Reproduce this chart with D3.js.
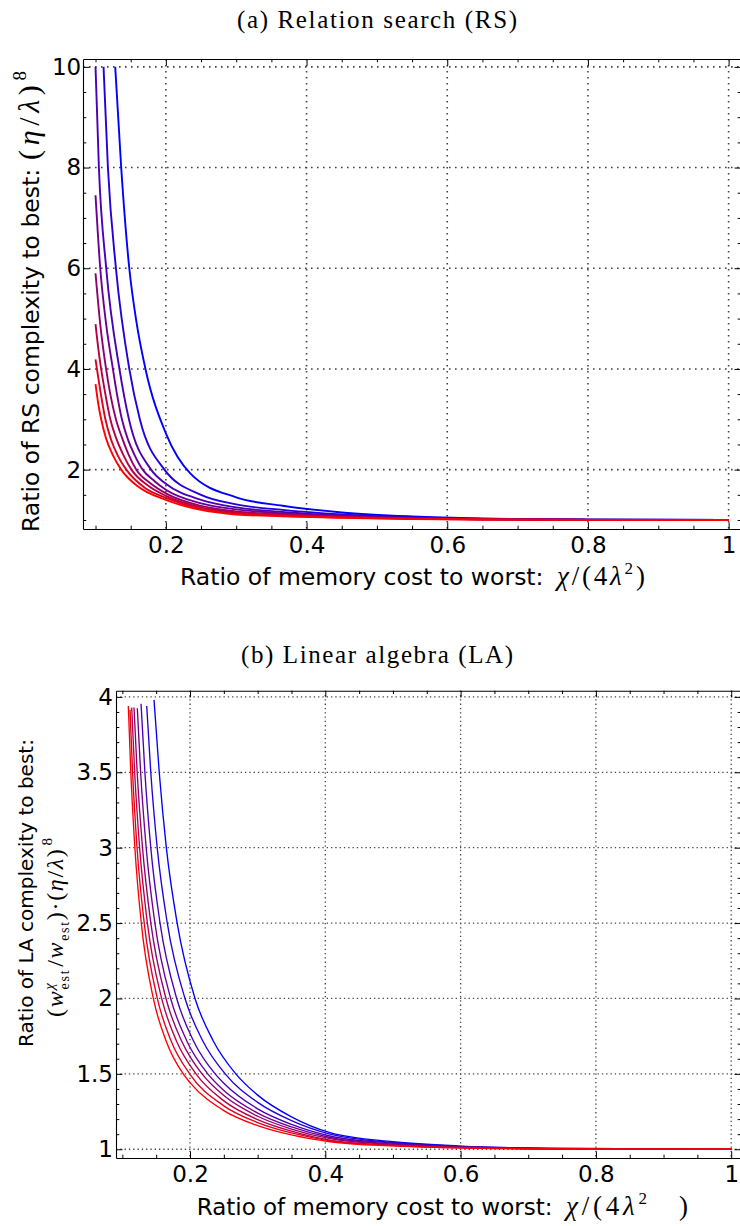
<!DOCTYPE html>
<html><head><meta charset="utf-8">
<script src="https://cdn.jsdelivr.net/npm/d3@7"></script>
<style>body{margin:0;background:#fff}svg{display:block}</style>
</head><body>
<svg id="c" width="740" height="1226"></svg>
<script>
// ---------- data ----------
const xMajorTicks = [0.2, 0.4, 0.6, 0.8, 1];
const xTickLabels = ["0.2", "0.4", "0.6", "0.8", "1"];
const rsYTicks = [2, 4, 6, 8, 10];
const rsYTickLabels = ["2", "4", "6", "8", "10"];
const laYTicks = [1, 1.5, 2, 2.5, 3, 3.5, 4];
const laYTickLabels = ["1", "1.5", "2", "2.5", "3", "3.5", "4"];

// (a) Relation search, curves ordered red -> blue
const rs1 = [[0.1,3.70],[0.104,3.3],[0.108,3.0],[0.115,2.62],[0.125,2.28],[0.1365,2.0],[0.16,1.67],[0.2,1.40],[0.25,1.2],[0.3,1.11],[0.366,1.075],[0.45,1.045],[0.55,1.021],[0.65,1.009],[0.8,1.002],[1,1]];
const rs2 = [[0.1,4.19],[0.102,4.0],[0.107,3.55],[0.114,3.0],[0.122,2.6],[0.132,2.27],[0.1437,2.0],[0.17,1.64],[0.2,1.44],[0.25,1.22],[0.3,1.13],[0.366,1.085],[0.45,1.05],[0.55,1.024],[0.65,1.01],[0.8,1.002],[1,1]];
const rs3 = [[0.1,4.89],[0.104,4.4],[0.108,4.0],[0.114,3.5],[0.121,3.0],[0.13,2.6],[0.14,2.28],[0.151,2.0],[0.175,1.68],[0.2,1.48],[0.25,1.25],[0.3,1.15],[0.366,1.1],[0.45,1.058],[0.55,1.027],[0.65,1.012],[0.8,1.003],[1,1]];
const rs4 = [[0.1,5.9],[0.107,4.85],[0.115,4.0],[0.121,3.5],[0.129,3.0],[0.138,2.62],[0.147,2.3],[0.158,2.0],[0.178,1.73],[0.2,1.53],[0.25,1.28],[0.3,1.17],[0.366,1.11],[0.45,1.065],[0.55,1.03],[0.65,1.013],[0.8,1.003],[1,1]];
const rs5 = [[0.1,7.45],[0.1067,6.0],[0.115,4.9],[0.1247,4.0],[0.1305,3.5],[0.1375,3.0],[0.146,2.6],[0.1552,2.3],[0.167,2.0],[0.184,1.77],[0.2,1.6],[0.25,1.33],[0.3,1.21],[0.366,1.13],[0.45,1.075],[0.55,1.035],[0.65,1.015],[0.8,1.004],[1,1]];
const rs6 = [[0.1,10],[0.1048,8],[0.1152,6],[0.134,4],[0.1475,3],[0.179,2],[0.2,1.72],[0.25,1.4],[0.3,1.25],[0.366,1.16],[0.45,1.09],[0.55,1.04],[0.65,1.018],[0.8,1.005],[1,1]];
const rs7 = [[0.1114,10],[0.1176,8],[0.129,6],[0.148,4],[0.163,3],[0.198,2],[0.25,1.5],[0.3,1.31],[0.366,1.2],[0.45,1.11],[0.55,1.05],[0.65,1.022],[0.8,1.006],[1,1]];
const rs8 = [[0.128,10],[0.1365,8],[0.148,6],[0.158,4.95],[0.171,4],[0.2,2.72],[0.235,1.92],[0.3,1.45],[0.366,1.284],[0.45,1.15],[0.55,1.07],[0.65,1.03],[0.8,1.008],[1,1]];

// (b) Linear algebra, curves ordered red -> blue
const la1 = [[0.1088,3.94],[0.1125,3.5],[0.1185,3],[0.128,2.5],[0.1458,2],[0.1645,1.72],[0.19,1.5],[0.2,1.442],[0.25,1.256],[0.3,1.157],[0.35,1.095],[0.407,1.05],[0.5,1.022],[0.6,1.009],[0.75,1.002],[1,1]];
const la2 = [[0.1113,3.915],[0.1151,3.5],[0.1217,3],[0.1323,2.5],[0.1517,2],[0.1719,1.72],[0.1994,1.5],[0.25,1.288],[0.3,1.177],[0.35,1.108],[0.407,1.056],[0.5,1.025],[0.6,1.01],[0.75,1.002],[1,1]];
const la3 = [[0.1138,3.93],[0.1182,3.5],[0.1255,3],[0.137,2.5],[0.1581,2],[0.1798,1.72],[0.2088,1.5],[0.25,1.321],[0.3,1.197],[0.35,1.12],[0.407,1.061],[0.5,1.027],[0.6,1.011],[0.75,1.003],[1,1]];
const la4 = [[0.1172,3.93],[0.1219,3.5],[0.1298,3],[0.1421,2.5],[0.1645,2],[0.1874,1.72],[0.2,1.614],[0.2178,1.5],[0.25,1.356],[0.3,1.219],[0.35,1.134],[0.407,1.07],[0.5,1.031],[0.6,1.013],[0.75,1.003],[1,1]];
const la5 = [[0.1221,3.925],[0.127,3.5],[0.1352,3],[0.1481,2.5],[0.1714,2],[0.1951,1.72],[0.2263,1.5],[0.25,1.39],[0.3,1.24],[0.35,1.148],[0.407,1.078],[0.5,1.035],[0.6,1.015],[0.75,1.004],[1,1]];
const la6 = [[0.1276,3.955],[0.1333,3.5],[0.142,3],[0.1557,2.5],[0.1803,2],[0.205,1.72],[0.2372,1.5],[0.25,1.438],[0.3,1.268],[0.35,1.165],[0.407,1.088],[0.5,1.04],[0.6,1.017],[0.75,1.004],[1,1]];
const la7 = [[0.136,3.94],[0.142,3.5],[0.1515,3],[0.1664,2.5],[0.1926,2],[0.2187,1.72],[0.252,1.5],[0.3,1.311],[0.35,1.19],[0.407,1.1],[0.5,1.045],[0.6,1.019],[0.75,1.005],[1,1]];
const la8 = [[0.1468,3.98],[0.1545,3.5],[0.165,3],[0.181,2.5],[0.2074,2],[0.2342,1.72],[0.2677,1.5],[0.3,1.359],[0.35,1.215],[0.407,1.11],[0.5,1.05],[0.6,1.021],[0.75,1.005],[1,1]];

const rsSeries = [rs1, rs2, rs3, rs4, rs5, rs6, rs7, rs8];
const laSeries = [la1, la2, la3, la4, la5, la6, la7, la8];

// ---------- drawing ----------
const svg = d3.select("#c");
const colorOf = i => d3.interpolateRgb("#ff0000", "#0000ff")(i / 7);
const SANS = "DejaVu Sans", SERIF = "Liberation Serif";

function panel(o) {
  const x = d3.scaleLinear().domain(o.xDom).range([o.left, o.right]);
  const y = d3.scaleLinear().domain(o.yDom).range([o.bottom, o.top]);
  const g = svg.append("g");
  const id = "clip" + o.name;
  svg.append("defs").append("clipPath").attr("id", id).append("rect")
    .attr("x", o.left).attr("y", o.top).attr("width", o.right - o.left).attr("height", o.bottom - o.top);

  const grid = g.append("g").attr("stroke", "#444").attr("stroke-width", o.dotW)
    .attr("stroke-dasharray", o.dash).attr("fill", "none");
  grid.selectAll(".gx").data(xMajorTicks).join("line")
    .attr("x1", d => x(d)).attr("x2", d => x(d)).attr("y1", o.top).attr("y2", o.bottom);
  grid.selectAll(".gy").data(o.yTicks).join("line")
    .attr("y1", d => y(d)).attr("y2", d => y(d)).attr("x1", o.left).attr("x2", o.right);

  const line = d3.line().x(d => x(d[0])).y(d => y(d[1])).curve(d3.curveMonotoneX);
  const cg = g.append("g").attr("clip-path", `url(#${id})`);
  const order = d3.range(o.series.length).reverse();
  cg.selectAll("path").data(order).join("path")
    .attr("d", i => line(o.series[i]))
    .attr("fill", "none").attr("stroke", i => colorOf(i))
    .attr("stroke-width", o.lineW).attr("stroke-linejoin", "round");

  const big = 6.5, small = 3.3;
  const xMinor = d3.range(0.1, 1.0001, 0.05).filter(v => !xMajorTicks.some(m => Math.abs(m - v) < 1e-6));
  const styleAxis = sel => {
    sel.attr("font-family", SANS).attr("font-size", 23);
    sel.selectAll("line").attr("stroke", "#000").attr("stroke-width", 1);
    sel.selectAll("path").attr("stroke", "#000").attr("stroke-width", 1.1);
    sel.selectAll("text").attr("fill", "#000");
  };
  const mk = (axisFn, scale, vals, size, labels, pad, tr, keepDomain) => {
    const a = axisFn(scale).tickValues(vals).tickSizeInner(-size).tickSizeOuter(0).tickPadding(pad)
      .tickFormat(labels ? (d, i) => labels[i] : () => "");
    const s = g.append("g").attr("transform", tr).call(a).call(styleAxis);
    if (!keepDomain) s.select(".domain").remove();
    return s;
  };
  mk(d3.axisBottom, x, xMajorTicks, big, xTickLabels, 7.4, `translate(0,${o.bottom})`, true);
  mk(d3.axisBottom, x, xMinor, small, null, 0, `translate(0,${o.bottom})`, false);
  mk(d3.axisTop, x, xMajorTicks, big, null, 0, `translate(0,${o.top})`, true);
  mk(d3.axisTop, x, xMinor, small, null, 0, `translate(0,${o.top})`, false);
  mk(d3.axisLeft, y, o.yTicks, big, o.yLabels, o.yPad, `translate(${o.left},0)`, true);
  mk(d3.axisLeft, y, o.yMinor, small, null, 0, `translate(${o.left},0)`, false);
  mk(d3.axisRight, y, o.yTicks, big, null, 0, `translate(${o.right},0)`, true);
  mk(d3.axisRight, y, o.yMinor, small, null, 0, `translate(${o.right},0)`, false);
}

const rsMinor = d3.range(1, 10.001, 0.5).filter(v => !rsYTicks.includes(v));
const laMinor = d3.range(1, 4.001, 0.1).map(v => +v.toFixed(2)).filter(v => !laYTicks.some(m => Math.abs(m - v) < 1e-6));

panel({name: "rs", left: 83, right: 741, top: 59, bottom: 529,
  xDom: [0.0822, 1.0176], yDom: [0.821, 10.156], series: rsSeries,
  yTicks: rsYTicks, yLabels: rsYTickLabels, yMinor: rsMinor, yPad: 1.8,
  lineW: 1.9, dotW: 1.6, dash: "1.6 4.4"});
panel({name: "la", left: 116, right: 741, top: 690.7, bottom: 1158,
  xDom: [0.0906, 1.0145], yDom: [0.942, 4.041], series: laSeries,
  yTicks: laYTicks, yLabels: laYTickLabels, yMinor: laMinor, yPad: 3,
  lineW: 1.35, dotW: 1.3, dash: "1.3 3.0"});

// ---------- texts ----------
function title(txt, cx, y, len) {
  svg.append("text").attr("x", cx - len / 2).attr("y", y).attr("font-family", SERIF)
    .attr("font-size", 25).attr("textLength", len).attr("lengthAdjust", "spacing").text(txt);
}
title("(a) Relation search (RS)", 377, 28, 280);
title("(b) Linear algebra (LA)", 377, 663, 272);

function xLabel(x0, y, fs, mathX, mathLen, parenX) {
  svg.append("text").attr("x", x0).attr("y", y).attr("font-family", SANS).attr("font-size", fs)
    .text("Ratio of memory cost to worst:");
  const t = svg.append("text").attr("x", mathX).attr("y", y).attr("font-family", SERIF)
    .attr("font-size", 27).attr("textLength", mathLen).attr("lengthAdjust", "spacing");
  t.append("tspan").attr("font-style", "italic").text("χ");
  t.append("tspan").text("/(4");
  t.append("tspan").attr("font-style", "italic").text("λ");
  t.append("tspan").attr("font-size", 17).attr("dy", -11).text("2");
  svg.append("text").attr("x", parenX).attr("y", y).attr("font-family", SERIF).attr("font-size", 27).text(")");
}
xLabel(180, 585, 23.5, 557, 76, 636);
xLabel(196.7, 1215, 23, 566, 81, 679);

// (a) y label
svg.append("text").attr("transform", "translate(38.5,532) rotate(-90)")
  .attr("font-family", SANS).attr("font-size", 23.5).text("Ratio of RS complexity to best:");
{
  const t = svg.append("text").attr("transform", "translate(38.5,160) rotate(-90)")
    .attr("font-family", SERIF).attr("font-size", 30)
    .attr("textLength", 89).attr("lengthAdjust", "spacing");
  t.append("tspan").text("(");
  t.append("tspan").attr("font-style", "italic").text("η");
  t.append("tspan").text("/");
  t.append("tspan").attr("font-style", "italic").text("λ");
  t.append("tspan").text(")");
  t.append("tspan").attr("font-size", 19).attr("dy", -13).text("8");
}

// (b) y label
svg.append("text").attr("transform", "translate(33,893) rotate(-90)")
  .attr("text-anchor", "middle").attr("font-family", SANS).attr("font-size", 20)
  .text("Ratio of LA complexity to best:");
{
  const t = svg.append("text").attr("transform", "translate(63,1017) rotate(-90)")
    .attr("font-family", SERIF).attr("font-size", 24)
    .attr("textLength", 179).attr("lengthAdjust", "spacing");
  t.append("tspan").text("(");
  t.append("tspan").attr("font-style", "italic").text("w");
  t.append("tspan").attr("font-size", 15).attr("font-style", "italic").attr("dy", -9).text("χ");
  t.append("tspan").attr("font-size", 14).attr("dy", 15).attr("dx", -8).text("est");
  t.append("tspan").attr("dy", -6).attr("dx", 2).text("/");
  t.append("tspan").attr("font-style", "italic").text("w");
  t.append("tspan").attr("font-size", 14).attr("dy", 6).text("est");
  t.append("tspan").attr("dy", -6).text(")·(");
  t.append("tspan").attr("font-style", "italic").text("η");
  t.append("tspan").text("/");
  t.append("tspan").attr("font-style", "italic").text("λ");
  t.append("tspan").text(")");
  t.append("tspan").attr("font-size", 15).attr("dy", -11).attr("dx", 2).text("8");
}
</script>
</body></html>
